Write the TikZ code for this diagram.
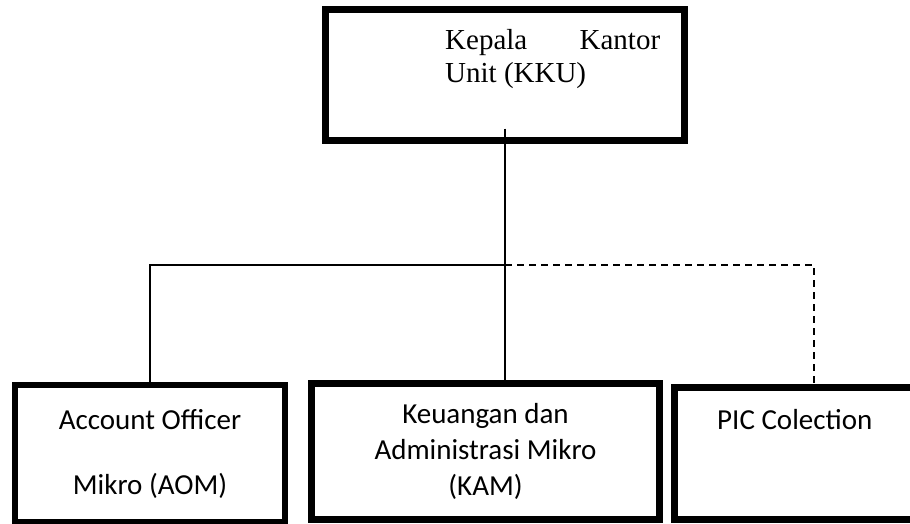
\documentclass[tikz,border=0pt]{standalone}
\usepackage{fontspec}
\setmainfont{Liberation Serif}
\newfontfamily\calibri{Carlito}
\tikzset{
  unitbox/.style={draw, rectangle, line width=6.5pt, inner sep=0pt, align=center,
    font=\calibri\fontsize{29}{36}\selectfont},
  conn/.style={line width=1.3pt},
  dashconn/.style={conn, dash pattern=on 7pt off 5pt}
}
\begin{document}
\begin{tikzpicture}[x=1pt,y=-1pt]
\useasboundingbox (0,0) rectangle (910,524);
\clip (0,0) rectangle (910,524);

\node [unitbox, minimum width=359pt, minimum height=131pt] (kku) at (505,75) {};
\node [anchor=base west, align=left, inner sep=0pt, font=\fontsize{29}{33}\selectfont] (kkutext) at (445,83) {\makebox[215pt][s]{Kepala Kantor}\\Unit (KKU)};

\node [unitbox, minimum width=270pt, minimum height=137pt] (aom) at (150,453.5) {Account Officer\\[29pt]Mikro (AOM)};

\node [unitbox, minimum width=348pt, minimum height=136pt] (kam) at (485.5,451.5) {Keuangan dan\\Administrasi Mikro\\(KAM)};

\node [unitbox, minimum width=279pt, minimum height=132pt] (pic) at (814,453.5) {};
\node [anchor=base west, inner sep=0pt, font=\calibri\fontsize{29}{36}\selectfont] (pictext) at (717,429) {PIC Colection};

\coordinate (fork) at (505,265);

\draw [conn] ([yshift=15pt]kku.south) -- (kku.south |- kam.north);

\draw [conn] (aom.north) |- (fork);

\draw [dashconn] (fork) -| (pic.north);

\end{tikzpicture}
\end{document}
